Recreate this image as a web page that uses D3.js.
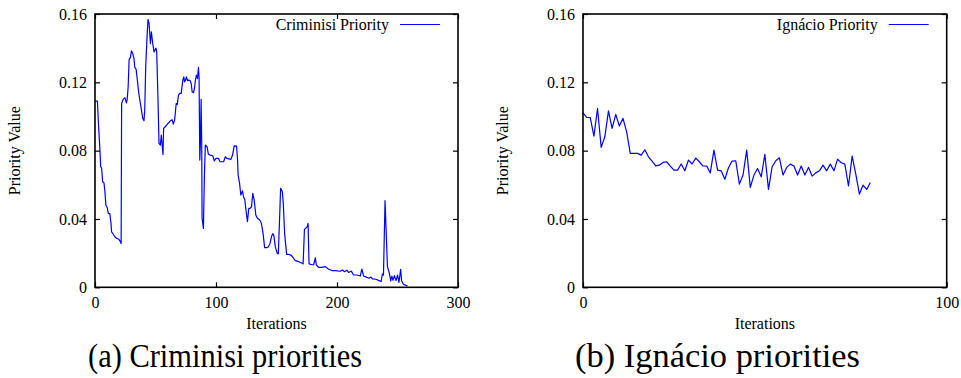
<!DOCTYPE html>
<html>
<head>
<meta charset="utf-8">
<script src="https://cdn.jsdelivr.net/npm/d3@7"></script>
</head>
<body style="margin:0; background:#fff">
<svg id="chart" width="961" height="378" style="display:block" font-family="Liberation Serif"></svg>
<script>
// Criminisi priority per iteration (sampled along the run)
const criminisiIter = [
  0, 2, 2.7, 4.1, 4.7, 5.5, 6.3, 7.4, 8.2, 9, 10.1, 11, 12.3, 13.2, 13.7, 15, 16.4, 17.8, 19.7, 21, 21.6,
  22, 23.3, 24.7, 26, 26.6, 27.4, 28.2, 29.3, 30.1, 31.2, 32.3, 32.9, 34, 35, 36.2, 37.3, 38.4, 39.5, 40.5,
  41.1, 41.9, 43, 43.8, 44.7, 45.8, 46.6, 47.7, 48.8, 49.6, 50.4, 51, 52, 52.9, 54, 54.8, 55.6, 56.2, 56.7,
  58, 59.2, 60.3, 61.6, 63, 63.8, 64.7, 65.8, 67.1, 68, 69, 70.1, 71.2, 72.6, 73.4, 74, 74.8, 75.6, 76.4,
  77.5, 78.6, 79.5, 80.3, 81.4, 82.2, 83, 83.8, 84.7, 85.5, 86, 86.6, 87.1, 87.7, 88.2, 88.5, 89.6, 90.4,
  91.2, 92.6, 93.7, 95.3, 97.3, 98.6, 100, 102, 103.3, 106.3, 107.7, 109, 112.3, 113.7, 115, 117, 117.8,
  118.3, 119.5, 120.5, 121.9, 122.7, 123.8, 124.6, 126, 127.1, 128.2, 129.3, 130.4, 131.5, 132.9, 134.2,
  136.1, 137.5, 138.9, 140.2, 141.9, 143.3, 144.6, 146, 147.1, 147.9, 149, 150.6, 151.5, 152.6, 153.4,
  154.8, 155.6, 156.7, 158.4, 160.3, 162.2, 163.8, 165.5, 168.5, 171.2, 172, 173.1, 175.3, 176.1, 176.9,
  179.4, 180.7, 182.1, 182.9, 184.8, 187.6, 190.3, 193.1, 195.8, 198.6, 202.7, 204.6, 206.3, 208.2, 209.6,
  211.8, 213.7, 216.4, 219.2, 220.5, 222, 224.7, 226.6, 228, 229.3, 232.1, 234.8, 236.5, 237.5, 238.4,
  239.7, 240.6, 241.7, 243.3, 244.4, 245.3, 246.3, 247.4, 248.8, 250.1, 251.2, 252.6, 253.4, 254.8, 257.5, 258.3
];
const criminisiPriority = [
  0.109, 0.109, 0.098, 0.080, 0.0706, 0.0697, 0.0618, 0.0612, 0.056, 0.048, 0.0467, 0.0433, 0.043, 0.0374, 0.0325, 0.0312, 0.0296, 0.0287, 0.0281, 0.0267, 0.0257,
  0.1076, 0.110, 0.111, 0.108, 0.110, 0.1174, 0.1334, 0.1345, 0.1384, 0.1369, 0.1334, 0.1287, 0.1276, 0.1213, 0.1135, 0.1086, 0.1037, 0.0989, 0.0975,
  0.1037, 0.129, 0.1466, 0.1568, 0.1545, 0.1427, 0.1495, 0.1427, 0.1378, 0.139, 0.140, 0.1378, 0.1115, 0.0842, 0.0833, 0.0891, 0.0823, 0.0778, 0.093,
  0.094, 0.0949, 0.0959, 0.0969, 0.0979, 0.098, 0.0955, 0.0979, 0.1076, 0.107, 0.1125, 0.1135, 0.1135, 0.1213, 0.1232, 0.1203, 0.1213, 0.1232, 0.121,
  0.1213, 0.121, 0.1193, 0.1144, 0.114, 0.1164, 0.1213, 0.1242, 0.1222, 0.1287, 0.1232, 0.0745, 0.0842, 0.110, 0.0842, 0.0404, 0.0345, 0.0647,
  0.0833, 0.0823, 0.0779, 0.0774, 0.077, 0.074, 0.0755, 0.0755, 0.0735, 0.0735, 0.0764, 0.0755, 0.0749, 0.0774, 0.0828, 0.0826, 0.0744,
  0.0657, 0.0608, 0.054, 0.0565, 0.053, 0.0514, 0.0462, 0.0384, 0.0462, 0.0462, 0.047, 0.055, 0.0514, 0.0423, 0.0404,
  0.0394, 0.0375, 0.0316, 0.0232, 0.0232, 0.0238, 0.0257, 0.030, 0.0314, 0.030, 0.0238, 0.0199, 0.0195, 0.0413, 0.0579,
  0.056, 0.0493, 0.0316, 0.0193, 0.0193, 0.0187, 0.0173, 0.0156, 0.015, 0.0141, 0.0137, 0.0339, 0.0354, 0.0374, 0.0137,
  0.0132, 0.0132, 0.0173, 0.0132, 0.0117, 0.0117, 0.0121, 0.0106, 0.0098, 0.0098, 0.0094, 0.0101, 0.0091, 0.010, 0.0087,
  0.0095, 0.0072, 0.0072, 0.0066, 0.0107, 0.0066, 0.0058, 0.0053, 0.006, 0.0049, 0.0047, 0.0039, 0.0034, 0.0078, 0.0072,
  0.0507, 0.0335, 0.0121, 0.0082, 0.0037, 0.0066, 0.0041, 0.0068, 0.0039, 0.0072, 0.0028, 0.0105, 0.0039, 0.0018, 0.001, 0.001
];

// Ignácio priority, one value per iteration starting at 0
const ignacioPriority = [
  0.1021, 0.0995, 0.0993, 0.0885, 0.1047, 0.0819, 0.0881, 0.1033, 0.093, 0.1012,
  0.0944, 0.0989, 0.091, 0.0784, 0.0784, 0.0784, 0.0774, 0.0805, 0.0764, 0.0739,
  0.0711, 0.0715, 0.0731, 0.0735, 0.071, 0.0686, 0.0686, 0.0722, 0.0682, 0.0745,
  0.0722, 0.0756, 0.0735, 0.071, 0.071, 0.067, 0.0803, 0.0686, 0.0682, 0.0632,
  0.0700, 0.0739, 0.0741, 0.0604, 0.0657, 0.0803, 0.0585, 0.0657, 0.0696, 0.0647,
  0.0778, 0.0573, 0.0706, 0.0741, 0.0758, 0.0657, 0.0702, 0.0721, 0.071, 0.0657,
  0.071, 0.0657, 0.0702, 0.0651, 0.067, 0.0682, 0.0715, 0.0682, 0.0721, 0.0682,
  0.075, 0.0729, 0.0721, 0.0593, 0.0768, 0.0662, 0.0546, 0.0598, 0.0573, 0.0614
];

const yTicks = [0, 0.04, 0.08, 0.12, 0.16];
const criminisiXTicks = [0, 100, 200, 300];
const ignacioXTicks = [0, 100];

const svg = d3.select("#chart");
const LINE_COLOR = "#0000ff";
const SERIF = "Liberation Serif";
const fmtY = d => d === 0 ? "0" : d.toFixed(2);

function label(sel, size) {
  return sel.attr("font-family", SERIF).attr("font-size", size).attr("fill", "#000");
}

function drawPanel(opt) {
  const x = d3.scaleLinear().domain(opt.xDomain).range([opt.left, opt.right]);
  const y = d3.scaleLinear().domain([0, 0.16]).range([opt.bottom, opt.top]);
  const g = svg.append("g");

  // data line
  const line = d3.line().x(d => x(d[0])).y(d => y(d[1]));
  g.append("path")
    .datum(opt.points)
    .attr("fill", "none")
    .attr("stroke", LINE_COLOR)
    .attr("stroke-width", 1.2)
    .attr("stroke-linejoin", "round")
    .attr("d", line);

  const styleAxis = sel => {
    sel.attr("font-family", SERIF).attr("font-size", 16);
    sel.select(".domain").remove();
    sel.selectAll("line").attr("stroke", "#000").attr("stroke-width", 1.2);
    label(sel.selectAll("text"), 16);
  };

  // bottom & left axes with labels, inward ticks
  g.append("g").attr("transform", `translate(0,${opt.bottom})`)
    .call(d3.axisBottom(x).tickValues(opt.xTicks).tickSizeInner(-5).tickSizeOuter(0).tickPadding(9).tickFormat(d3.format("d")))
    .call(styleAxis);
  g.append("g").attr("transform", `translate(${opt.left},0)`)
    .call(d3.axisLeft(y).tickValues(yTicks).tickSizeInner(-5).tickSizeOuter(0).tickPadding(8).tickFormat(fmtY))
    .call(styleAxis);
  // mirrored ticks on top & right
  g.append("g").attr("transform", `translate(0,${opt.top})`)
    .call(d3.axisTop(x).tickValues(opt.xTicks).tickSizeInner(-5).tickSizeOuter(0).tickFormat(""))
    .call(styleAxis);
  g.append("g").attr("transform", `translate(${opt.right},0)`)
    .call(d3.axisRight(y).tickValues(yTicks).tickSizeInner(-5).tickSizeOuter(0).tickFormat(""))
    .call(styleAxis);

  // frame
  g.append("rect")
    .attr("x", opt.left).attr("y", opt.top)
    .attr("width", opt.right - opt.left).attr("height", opt.bottom - opt.top)
    .attr("fill", "none").attr("stroke", "#000").attr("stroke-width", 1.6);

  // axis titles
  g.append("text")
    .attr("x", (opt.left + opt.right) / 2).attr("y", opt.bottom + 42)
    .attr("text-anchor", "middle")
    .call(label, 16)
    .text("Iterations");
  g.append("text")
    .attr("transform", `translate(${opt.left - 75},${(opt.top + opt.bottom) / 2}) rotate(-90)`)
    .attr("text-anchor", "middle")
    .call(label, 16)
    .text("Priority Value");

  // key
  const keyEnd = opt.right - 18;
  g.append("line")
    .attr("x1", keyEnd - 40).attr("x2", keyEnd)
    .attr("y1", opt.top + 10.5).attr("y2", opt.top + 10.5)
    .attr("stroke", LINE_COLOR).attr("stroke-width", 1.2);
  g.append("text")
    .attr("x", keyEnd - 51).attr("y", opt.top + 15.5)
    .attr("text-anchor", "end")
    .call(label, 16)
    .text(opt.key);

  // caption, set in a tall, slightly condensed face
  svg.append("text")
    .attr("x", opt.captionX).attr("y", 367)
    .attr("text-anchor", "middle")
    .attr("textLength", opt.captionWidth)
    .attr("lengthAdjust", "spacingAndGlyphs")
    .call(label, 34)
    .text(opt.caption);
}

drawPanel({
  left: 95, right: 458, top: 14, bottom: 287.3,
  xDomain: [0, 300], xTicks: criminisiXTicks,
  points: criminisiIter.map((t, i) => [t, criminisiPriority[i]]),
  key: "Criminisi Priority",
  caption: "(a) Criminisi priorities", captionX: 225, captionWidth: 274
});

drawPanel({
  left: 583, right: 946.7, top: 14, bottom: 287.3,
  xDomain: [0, 100], xTicks: ignacioXTicks,
  points: ignacioPriority.map((v, i) => [i, v]),
  key: "Ignácio Priority",
  caption: "(b) Ignácio priorities", captionX: 717.5, captionWidth: 285
});
</script>
</body>
</html>
